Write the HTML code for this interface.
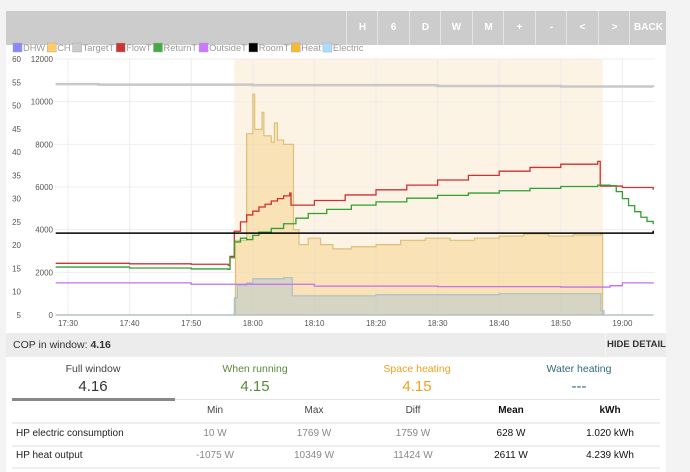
<!DOCTYPE html>
<html><head><meta charset="utf-8"><style>
body{margin:0;width:690px;height:472px;background:#f3f3f3;font-family:"Liberation Sans",sans-serif;overflow:hidden;position:relative}
.abs{position:absolute}
#toolbar{left:6px;top:11px;width:660px;height:34px;background:#ccc}
.btn{position:absolute;top:0;height:34px;width:31px;border-left:1px solid #e4e4e4;color:#fff;font-size:10px;font-weight:bold;text-align:center;line-height:34px}
#main{left:6px;top:45px;width:660px;height:288px;background:#fff}
#cop{left:6px;top:333px;width:660px;height:24px;background:#ececec;font-size:10.5px}
#detail{left:6px;top:357px;width:660px;height:115px;background:#fff;font-size:10px;color:#444}
.tab{position:absolute;text-align:center;width:162px}
.c{position:absolute;text-align:center;width:90px}
</style></head><body>
<div class="abs" id="toolbar">
<div class="btn" style="left:340px">H</div>
<div class="btn" style="left:371px">6</div>
<div class="btn" style="left:403px">D</div>
<div class="btn" style="left:434px">W</div>
<div class="btn" style="left:466px">M</div>
<div class="btn" style="left:497px">+</div>
<div class="btn" style="left:529px">-</div>
<div class="btn" style="left:560px">&lt;</div>
<div class="btn" style="left:592px">&gt;</div>
<div class="btn" style="left:623px;width:37px">BACK</div>
</div>
<div class="abs" id="main">
<svg id="chart" width="660" height="288" style="position:absolute;left:-6px;top:-45px;overflow:visible"></svg>
</div>
<div class="abs" id="cop">
<span class="abs" style="left:7px;top:6px;color:#333">COP in window: <b>4.16</b></span>
<div class="abs" style="left:599px;top:0;width:61px;height:24px;border-left:1px solid #f6f6f6;font-size:9.5px;font-weight:bold;color:#333;text-align:center;line-height:24px">HIDE DETAIL</div>
</div>
<div class="abs" id="detail">
<div class="tab" style="left:6px"><div style="margin-top:6px;font-size:10.5px;color:#444">Full window</div><div style="font-size:15px;margin-top:3px;color:#333">4.16</div></div>
<div class="tab" style="left:168px;color:#5a8a3a"><div style="margin-top:6px;font-size:10.5px">When running</div><div style="font-size:15px;margin-top:3px">4.15</div></div>
<div class="tab" style="left:330px;color:#f0a020"><div style="margin-top:6px;font-size:10.5px">Space heating</div><div style="font-size:15px;margin-top:3px">4.15</div></div>
<div class="tab" style="left:492px;color:#2e6a80"><div style="margin-top:6px;font-size:10.5px">Water heating</div><div style="font-size:15px;margin-top:3px">---</div></div>
<div class="abs" style="left:6px;top:42px;width:648px;height:1px;background:#e4e4e4"></div>
<div class="abs" style="left:6px;top:41px;width:163px;height:3px;background:#888"></div>
<div class="c" style="left:164px;top:48px">Min</div>
<div class="c" style="left:263px;top:48px">Max</div>
<div class="c" style="left:362px;top:48px">Diff</div>
<div class="c" style="left:460px;top:48px;color:#111;font-weight:bold">Mean</div>
<div class="c" style="left:559px;top:48px;color:#111;font-weight:bold">kWh</div>
<div class="abs" style="left:6px;top:65px;width:648px;height:2px;background:#eee"></div>
<div class="abs" style="left:10px;top:71px;color:#222">HP electric consumption</div>
<div class="c" style="left:164px;top:71px;color:#888">10 W</div>
<div class="c" style="left:263px;top:71px;color:#888">1769 W</div>
<div class="c" style="left:362px;top:71px;color:#888">1759 W</div>
<div class="c" style="left:460px;top:71px;color:#111">628 W</div>
<div class="c" style="left:559px;top:71px;color:#111">1.020 kWh</div>
<div class="abs" style="left:6px;top:88px;width:648px;height:2px;background:#eee"></div>
<div class="abs" style="left:10px;top:93px;color:#222">HP heat output</div>
<div class="c" style="left:164px;top:93px;color:#888">-1075 W</div>
<div class="c" style="left:263px;top:93px;color:#888">10349 W</div>
<div class="c" style="left:362px;top:93px;color:#888">11424 W</div>
<div class="c" style="left:460px;top:93px;color:#111">2611 W</div>
<div class="c" style="left:559px;top:93px;color:#111">4.239 kWh</div>
<div class="abs" style="left:6px;top:110px;width:648px;height:2px;background:#eee"></div>
</div>
<script>
// time in minutes after 17:30
const timeTicks=[0,10,20,30,40,50,60,70,80,90];
const timeLabels=["17:30","17:40","17:50","18:00","18:10","18:20","18:30","18:40","18:50","19:00"];
const tempTicks=[5,10,15,20,25,30,35,40,45,50,55,60];
const powerTicks=[0,2000,4000,6000,8000,10000,12000];
const shadeRange=[27,86.8];
const targetT=[[-2,54.6],[5,54.5],[30,54.4],[60,54.2],[80,54.1],[95,54.0]];
const flowT=[[-2,16.1],[10,16.0],[20,15.9],[26,15.7],[26.3,17.6],[27,23],[28,25],[29,26.5],[30,27.3],[31,28.2],[32,28.8],[33,29.5],[34,30],[35,30.6],[36,31.2],[36.2,28.6],[40,29.6],[45,30.8],[50,31.9],[55,32.9],[60,34],[65,35],[70,35.9],[75,36.7],[80,37.4],[86,38],[86.4,32.7],[90,32.4],[95,31.9]];
const returnT=[[-2,15.3],[10,15.1],[20,14.9],[26,14.8],[26.3,17.3],[27,20.7],[28,21.5],[29,21.2],[30,22.1],[31,22.8],[33,23.6],[35,24.6],[37,25.8],[39,26.8],[42,27.7],[46,28.6],[50,29.3],[55,30.1],[60,30.7],[65,31.2],[70,31.7],[75,32.2],[80,32.6],[86,32.9],[88,32.8],[89,31.5],[90,30],[91,28.5],[92,27.2],[93,26],[94,25.1],[95,24.5]];
const roomT=[[-2,22.6],[95,23.1]];
const outsideT=[[-2,11.9],[20,11.6],[40,11.2],[60,11.1],[80,11.0],[86,11.0],[88,11.3],[90,11.9],[95,12.0]];
const heat=[[-2,0],[27,0],[27.2,3500],[28.5,3500],[29,8500],[29.7,8500],[30,10349],[30.3,8700],[31,8700],[31.5,9500],[31.8,8400],[33,8100],[33.5,9000],[34,8200],[35,8000],[36.3,8000],[36.6,4000],[37.5,3300],[39,3600],[41,3300],[43,3100],[46,3200],[50,3300],[54,3500],[58,3600],[62,3500],[66,3600],[70,3700],[74,3800],[78,3700],[82,3750],[86.5,3800],[86.8,0],[95,0]];
const electric=[[-2,0],[26.5,0],[27,800],[27.5,1400],[29,1500],[30,1700],[35,1750],[36.2,1750],[36.4,900],[50,950],[70,1000],[86,1000],[86.5,200],[87,0],[95,0]];

const svg=document.getElementById('chart');
const NS='http://www.w3.org/2000/svg';
const X=t=>68+t*6.16, YT=v=>315-(v-5)*256/55, YP=p=>315-p*256/12000;
function mk(tag,attrs,parent){const e=document.createElementNS(NS,tag);for(const k in attrs)e.setAttribute(k,attrs[k]);(parent||svg).appendChild(e);return e;}
let e=mk('rect',{x:X(shadeRange[0]),y:59,width:X(shadeRange[1])-X(shadeRange[0]),height:256,fill:'#fdf3e4'});


powerTicks.forEach(p=>{mk('line',{x1:55,x2:655,y1:YP(p),y2:YP(p),stroke:'#eee'});
 const t=mk('text',{x:53,y:YP(p)+3,'font-size':8,fill:'#555','text-anchor':'end'});t.textContent=p;
 
 });
tempTicks.forEach(v=>{const t=mk('text',{x:21,y:YT(v)+3,'font-size':8,fill:'#555','text-anchor':'end'});t.textContent=v;
 
 });
timeTicks.forEach((m,i)=>{mk('line',{x1:X(m),x2:X(m),y1:59,y2:315,stroke:'#ececec'});
 const t=mk('text',{x:X(m),y:326,'font-size':8,fill:'#555','text-anchor':'middle'});t.textContent=timeLabels[i];
 
 });
function stepPath(d,Y){let s='';d.forEach((p,i)=>{const x=X(p[0]),y=Y(p[1]);if(i==0)s='M'+x+','+y;else s+='H'+x+'V'+y;});return s;}
function area(d,Y){return stepPath(d,Y)+'V315H'+X(d[0][0])+'Z';}
e=mk('path',{d:area(heat,YP),fill:'rgba(245,200,110,0.38)',stroke:'#dcc07a','stroke-width':1.2});


e=mk('path',{d:area(electric,YP),fill:'rgba(170,195,210,0.45)',stroke:'#aabfcc','stroke-width':1.2});


const lines=[[targetT,'#c8c8c8',2.5,'target-temp-line'],[outsideT,'#c070f0',1.3,'outside-temp-line'],[flowT,'#d03030',1.3,'flow-temp-line'],[returnT,'#30a030',1.3,'return-temp-line'],[roomT,'#000',1.5,'room-temp-line']];
lines.forEach(l=>{const p=mk('path',{d:stepPath(l[0],YT),fill:'none',stroke:l[1],'stroke-width':l[2]});
 
 });
const leg=[['DHW','#8888ff'],['CH','#ffcc66'],['TargetT','#cccccc'],['FlowT','#cc3333'],['ReturnT','#44aa44'],['OutsideT','#cc77ff'],['RoomT','#000'],['Heat','#f5bb33'],['Electric','#aaddff']];
let lx=13;
leg.forEach(l=>{mk('rect',{x:lx,y:43,width:9,height:9,fill:l[1],stroke:'#aaa','stroke-width':0.5});
 const t=mk('text',{x:lx+10,y:51,'font-size':9.3,fill:'#999'});t.textContent=l[0];
 
 
 lx+=11+t.getComputedTextLength()+1;});
</script>
</body></html>
